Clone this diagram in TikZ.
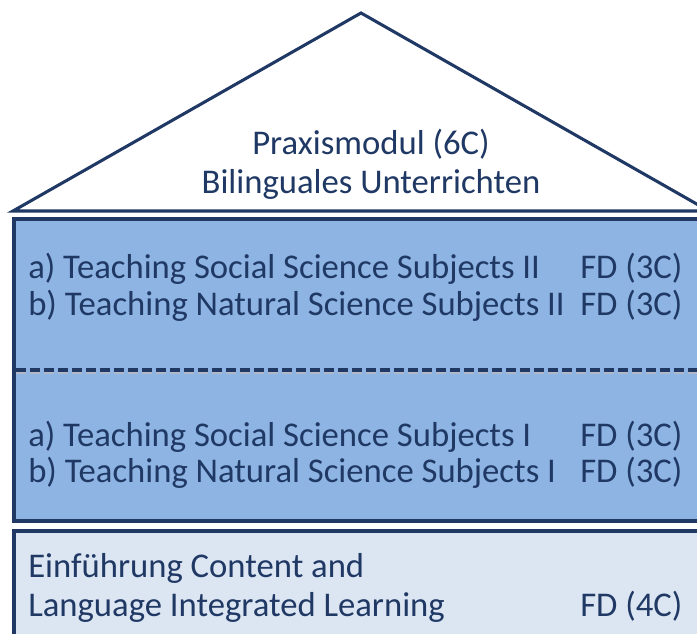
\documentclass[tikz,border=0pt]{standalone}
\usepackage{tikz}
\usepackage{xcolor}
\usepackage{fontspec}
\setmainfont{Carlito}
\definecolor{navy}{HTML}{1F3864}
\definecolor{midblue}{HTML}{8EB4E3}
\definecolor{paleblue}{HTML}{DCE6F2}

\begin{document}
\begin{tikzpicture}[x=0.75pt,y=-0.75pt]
\tikzstyle{frame} = [draw=navy, line width=2.3pt];
\tikzstyle{label} = [text=navy, font=\fontsize{26}{31}\selectfont, inner sep=0pt, anchor=base west];
\tikzstyle{roof_label} = [text=navy, font=\fontsize{26}{31}\selectfont, inner sep=0pt, anchor=base];
\tikzstyle{divider} = [draw=navy, line width=2.3pt, dash pattern=on 7.5pt off 3pt];
\useasboundingbox (0,0) rectangle (697,634);
\clip (0,0) rectangle (697,634);
\fill[white] (0,0) rectangle (697,634);
% roof
\draw [frame, line join=miter] (13,211) -- (361,13) -- (709,211) -- cycle;
\node [roof_label] (module) at (371,155) {Praxismodul (6C)};
\node [roof_label] (bili) at (371,194) {Bilinguales Unterrichten};
% upper floor
\draw [frame, fill=midblue] (14,219) rectangle (705,521);
\draw [divider, draw=navy!35, line width=1.5pt] (16,373) -- (705,373);
\draw [divider] (16,370) -- (705,370);
\node [label] (socII) at (28,279) {a) Teaching Social Science Subjects II};
\node [label] (natII) at (28,316) {b) Teaching Natural Science Subjects II};
\node [label] (fdsocII) at (580,279) {FD (3C)};
\node [label] (fdnatII) at (580,316) {FD (3C)};
\node [label] (socI) at (28,447) {a) Teaching Social Science Subjects I};
\node [label] (natI) at (28,483) {b) Teaching Natural Science Subjects I};
\node [label] (fdsocI) at (580,447) {FD (3C)};
\node [label] (fdnatI) at (580,483) {FD (3C)};
% ground floor
\draw [frame, fill=paleblue] (14,531) rectangle (705,660);
\node [label] (clil) at (28,578) {Einführung Content and};
\node [label] (clil2) at (28,617) {Language Integrated Learning};
\node [label] (fdclil) at (580,617) {FD (4C)};
\end{tikzpicture}
\end{document}
